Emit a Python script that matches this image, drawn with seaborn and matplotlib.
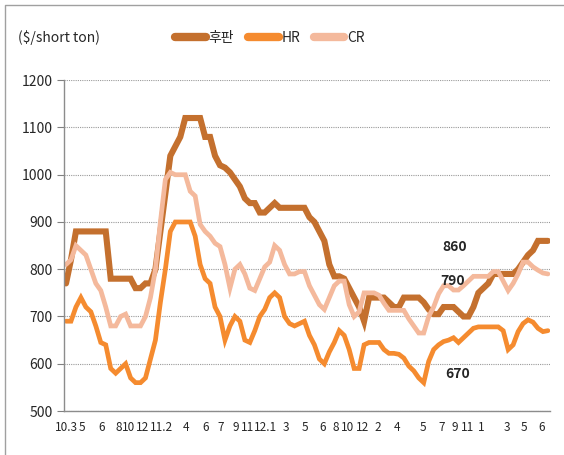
import pandas as pd
import matplotlib.pyplot as plt
import seaborn as sns
from matplotlib.lines import Line2D

# weekly prices ($/short ton)
plate = [770, 820, 880, 880, 880, 880, 880, 880, 880, 780,
         780, 780, 780, 780, 760, 760, 770, 770, 800, 880,
         960, 1040, 1060, 1080, 1120, 1120, 1120, 1120, 1080, 1080,
         1040, 1020, 1015, 1005, 990, 975, 950, 940, 940, 920,
         920, 930, 940, 930, 930, 930, 930, 930, 930, 910,
         900, 880, 860, 810, 785, 785, 780, 760, 740, 720,
         690, 740, 740, 740, 740, 730, 720, 720, 740, 740,
         740, 740, 730, 715, 705, 705, 720, 720, 720, 710,
         700, 700, 720, 750, 760, 770, 790, 790, 790, 790,
         790, 800, 815, 830, 840, 860, 860, 860]
hr = [690, 690, 720, 740, 720, 710, 680, 645, 640, 590,
      580, 590, 600, 570, 560, 560, 570, 610, 650, 730,
      800, 880, 900, 900, 900, 900, 870, 810, 780, 770,
      720, 700, 650, 680, 700, 690, 650, 645, 670, 700,
      715, 740, 750, 740, 700, 685, 680, 685, 690, 660,
      640, 610, 600, 625, 645, 670, 660, 630, 590, 590,
      640, 645, 645, 645, 630, 622, 622, 620, 612, 595,
      585, 570, 560, 605, 630, 640, 647, 650, 655, 645,
      655, 665, 675, 678, 678, 678, 678, 678, 670, 630,
      640, 668, 685, 693, 688, 675, 668, 670]
cr = [810, 820, 850, 840, 830, 800, 770, 755, 720, 680,
      680, 700, 705, 680, 680, 680, 700, 740, 800, 900,
      990, 1005, 1000, 1000, 1000, 965, 955, 895, 880, 870,
      855, 848, 810, 760, 800, 810, 790, 760, 755, 780,
      805, 815, 850, 840, 810, 790, 790, 795, 795, 765,
      745, 725, 715, 740, 765, 775, 775, 725, 700, 710,
      750, 750, 750, 745, 728, 713, 713, 713, 713, 695,
      680, 665, 665, 700, 720, 748, 765, 765, 756, 756,
      765, 775, 785, 785, 785, 785, 795, 795, 775, 755,
      770, 790, 815, 815, 805, 798, 792, 790]

tick_pos = [0, 3.2, 7.2, 10.6, 12.6, 15.5, 19.2, 24.2, 28.2, 31.2,
            34.2, 36.5, 40.2, 44.2, 48.2, 51.6, 54.3, 56.6, 59.6, 62.8,
            66.6, 71.8, 75.6, 78.3, 80.8, 83.6, 88.8, 92.2, 95.8]
tick_labels = ['10.3', '5', '6', '8', '10', '12', '11.2', '4', '6', '7',
               '9', '11', '12.1', '3', '5', '6', '8', '10', '12', '2',
               '4', '5', '7', '9', '11', '1', '3', '5', '6']

series_names = ['후판', 'HR', 'CR']
colors = ['#C4702E', '#F58B2F', '#F4B99C']
widths = [4.4, 3.4, 3.4]

df = pd.DataFrame({'week': range(len(plate)), '후판': plate, 'HR': hr, 'CR': cr})

sns.set_style('white')
plt.rcParams['font.family'] = ['Noto Sans CJK KR', 'DejaVu Sans']

fig = plt.figure(figsize=(5.64, 4.55), dpi=100)
ax = fig.add_axes([0.1135, 0.0967, 0.8615, 0.727])

for name, c, w in zip(series_names, colors, widths):
    sns.lineplot(x='week', y=name, data=df, ax=ax, color=c, linewidth=w,
                 solid_joinstyle='miter', legend=False)

ax.set_ylim(500, 1200)
ax.set_xlim(-0.4, len(plate) - 0.6)
ax.set_yticks(range(500, 1201, 100))
ax.set_xticks(tick_pos)
ax.set_xticklabels(tick_labels)
ax.tick_params(axis='y', labelsize=10, length=5, color='#808080', direction='out', left=True, pad=3)
ax.tick_params(axis='x', labelsize=8.5, length=0, pad=7)
ax.set_xlabel('')
ax.set_ylabel('')
ax.grid(axis='y', linestyle=(0, (1, 1)), color='#9a9a9a', linewidth=0.8)
ax.grid(axis='x', visible=False)
for s in ['top', 'right']:
    ax.spines[s].set_visible(False)
for s in ['left', 'bottom']:
    ax.spines[s].set_color('#8c8c8c')
    ax.spines[s].set_linewidth(1)

# end-value labels
ax.text(78.2, 846, f'{plate[-1]}', fontsize=10, fontweight='bold', ha='center', va='center')
ax.text(77.8, 775, f'{cr[-1]}', fontsize=10, fontweight='bold', ha='center', va='center')
ax.text(78.8, 578, f'{hr[-1]}', fontsize=10, fontweight='bold', ha='center', va='center')

fig.text(18 / 564, 1 - 38 / 455, '(\\$/short ton)', fontsize=10, va='center', ha='left')
handles = [Line2D([0], [0], color=c, lw=6, solid_capstyle='round') for c in colors]
fig.legend(handles, series_names, loc='center', bbox_to_anchor=(270 / 564, 1 - 38 / 455),
           ncol=3, frameon=False, fontsize=10, handlelength=2.2, handletextpad=0.2,
           columnspacing=1.0)

# outer frame (top and left edges)
fig.add_artist(Line2D([5 / 564, 5 / 564, 1], [0, 1 - 5 / 455, 1 - 5 / 455],
                      transform=fig.transFigure, color='#a0a0a0', lw=1))

fig.savefig('out.png', dpi=100)
